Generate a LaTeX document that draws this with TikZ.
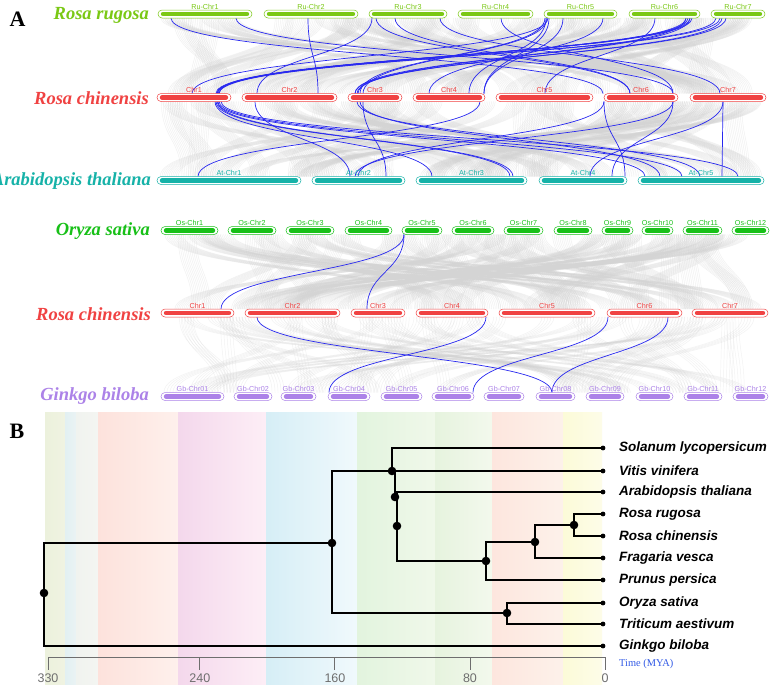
\documentclass[tikz,border=0pt]{standalone}
\usepackage{fontspec}
\setmainfont{Liberation Serif}
\setsansfont{Liberation Sans}
\definecolor{cRu}{RGB}{122,200,20}
\definecolor{cRc}{RGB}{240,66,66}
\definecolor{cAt}{RGB}{22,178,168}
\definecolor{cOs}{RGB}{24,192,24}
\definecolor{cGb}{RGB}{172,130,232}
\definecolor{synblue}{RGB}{40,40,240}
\definecolor{syngray}{RGB}{212,212,212}
\definecolor{axisgray}{RGB}{110,110,110}
\definecolor{timeblue}{RGB}{50,90,230}
\newcommand\chrom[6]{%
  \node[draw=#5, fill=white, rounded corners=4pt, line width=0.5pt,
        minimum width={(#3-#2)*1pt}, minimum height=8pt, inner sep=0pt]
        (#1) at ({(#2+#3)/2},#4) {};
  \draw[color=#5, line width=4.4pt, line cap=round] ({#2+5},#4) -- ({#3-5},#4);
  \node[chrlabel, text=#5] (#1l) at ({(#2+#3)/2},{#4-4.6}) {#6};
}
\newcommand\synline[5]{%
  \draw[#5] (#1,#3) .. controls (#1,{(#3+#4)/2}) and (#2,{(#3+#4)/2}) .. (#2,#4);
}
\newcommand\graybundles[6]{% count, lines, spacing, y1, y2, opacity
  \foreach \i in {1,...,#1} {
    \pgfmathsetmacro{\xa}{168+585*rnd}
    \pgfmathsetmacro{\xb}{168+585*rnd}
    \foreach \k in {1,...,#2} {
      \pgfmathsetmacro{\off}{(\k-(#2+1)/2)*#3}
      \draw[syngray, line width=0.45pt, opacity=#6]
        ({\xa+\off},#4) .. controls ({\xa+\off},{(#4+#5)/2}) and ({\xb+\off},{(#4+#5)/2}) .. ({\xb+\off},#5);
    }
  }
}
\tikzset{
  chrlabel/.style={font=\sffamily\fontsize{7.2}{8}\selectfont, anchor=base, inner sep=0pt},
  species/.style={font=\fontsize{18.5}{21}\selectfont\bfseries\itshape, anchor=east, inner sep=0pt},
  blue link/.style={synblue, line width=0.7pt},
  branch/.style={black, line width=1.6pt, line cap=rect},
  tipdot/.style={black, radius=2.4},
  nodedot/.style={black, radius=4.3},
  tiplabel/.style={font=\sffamily\bfseries\itshape\fontsize{13.5}{15}\selectfont, anchor=west, inner sep=0pt},
  panel/.style={font=\bfseries\fontsize{22}{24}\selectfont, inner sep=0pt},
}
\begin{document}
\begin{tikzpicture}[x=1pt,y=-1pt]
\useasboundingbox (0,0) rectangle (780,689);
\clip (0,0) rectangle (780,689);
\fill[white] (0,0) rectangle (780,689);

% ---------------- Panel A ----------------
\node[panel] (A) at (17.5,19) {A};

\pgfmathsetseed{4711}
\graybundles{70}{11}{1.8}{18}{93.5}{0.35}
\graybundles{65}{11}{1.8}{101.5}{176.5}{0.35}
\graybundles{70}{11}{1.8}{234.5}{309}{0.35}
\graybundles{60}{5}{3}{317}{392.5}{0.3}

% blue links Ru -> Rc
\foreach \a/\b in {171/603, 236/673, 308/318, 372/257, 376/630, 395/630, 440/720, 501/673,
  546/469, 549/484, 563/484, 603/429, 655/545, 686/217, 688/219, 690/216, 692/218,
  716/217, 720/219, 726/355, 686/355, 690/358, 722/357, 548/192, 545/360, 547/363}
  {\synline{\a}{\b}{18}{93.5}{blue link}}
% blue links Rc -> At
\foreach \a/\b in {217/645, 219/682, 221/738, 216/510, 218/513, 215/432, 255/350, 480/198,
  363/386, 357/700, 360/660, 723/590, 673/612, 604/625, 723/722, 673/355, 604/358}
  {\synline{\a}{\b}{101.5}{176.5}{blue link}}
% blue links Os -> Rc
\foreach \a/\b in {404/221, 404/367}
  {\synline{\a}{\b}{234.5}{309}{blue link}}
% blue links Rc -> Gb
\foreach \a/\b in {257/552, 486/329, 608/473, 668/552}
  {\synline{\a}{\b}{317}{392.5}{blue link}}

% species labels
\node[species, text=cRu] (sRu) at (149,15) {Rosa rugosa};
\node[species, text=cRc] (sRc) at (149,98) {Rosa chinensis};
\node[species, text=cAt] (sAt) at (151,181) {Arabidopsis thaliana};
\node[species, text=cOs] (sOs) at (150,231) {Oryza sativa};
\node[species, text=cRc] (sRc2) at (151,314) {Rosa chinensis};
\node[species, text=cGb] (sGb) at (149,396) {Ginkgo biloba};

% chromosomes
\chrom{ru1}{158}{252}{14}{cRu}{Ru-Chr1}
\chrom{ru2}{264}{358}{14}{cRu}{Ru-Chr2}
\chrom{ru3}{369}{447}{14}{cRu}{Ru-Chr3}
\chrom{ru4}{458}{533}{14}{cRu}{Ru-Chr4}
\chrom{ru5}{544}{617}{14}{cRu}{Ru-Chr5}
\chrom{ru6}{629}{700}{14}{cRu}{Ru-Chr6}
\chrom{ru7}{711}{765}{14}{cRu}{Ru-Chr7}

\chrom{rca1}{157}{231}{97.5}{cRc}{Chr1}
\chrom{rca2}{242}{337}{97.5}{cRc}{Chr2}
\chrom{rca3}{348}{402}{97.5}{cRc}{Chr3}
\chrom{rca4}{413}{485}{97.5}{cRc}{Chr4}
\chrom{rca5}{496}{593}{97.5}{cRc}{Chr5}
\chrom{rca6}{604}{678}{97.5}{cRc}{Chr6}
\chrom{rca7}{690}{766}{97.5}{cRc}{Chr7}

\chrom{at1}{157}{301}{180.5}{cAt}{At-Chr1}
\chrom{at2}{312}{405}{180.5}{cAt}{At-Chr2}
\chrom{at3}{416}{527}{180.5}{cAt}{At-Chr3}
\chrom{at4}{539}{627}{180.5}{cAt}{At-Chr4}
\chrom{at5}{638}{764}{180.5}{cAt}{At-Chr5}

\chrom{os1}{161}{218}{230.5}{cOs}{Os-Chr1}
\chrom{os2}{228}{276}{230.5}{cOs}{Os-Chr2}
\chrom{os3}{286}{334}{230.5}{cOs}{Os-Chr3}
\chrom{os4}{345}{392}{230.5}{cOs}{Os-Chr4}
\chrom{os5}{402}{442}{230.5}{cOs}{Os-Chr5}
\chrom{os6}{452}{494}{230.5}{cOs}{Os-Chr6}
\chrom{os7}{504}{543}{230.5}{cOs}{Os-Chr7}
\chrom{os8}{554}{592}{230.5}{cOs}{Os-Chr8}
\chrom{os9}{602}{633}{230.5}{cOs}{Os-Chr9}
\chrom{os10}{642}{673}{230.5}{cOs}{Os-Chr10}
\chrom{os11}{683}{722}{230.5}{cOs}{Os-Chr11}
\chrom{os12}{732}{769}{230.5}{cOs}{Os-Chr12}

\chrom{rcb1}{161}{234}{313}{cRc}{Chr1}
\chrom{rcb2}{245}{340}{313}{cRc}{Chr2}
\chrom{rcb3}{351}{405}{313}{cRc}{Chr3}
\chrom{rcb4}{416}{488}{313}{cRc}{Chr4}
\chrom{rcb5}{499}{595}{313}{cRc}{Chr5}
\chrom{rcb6}{607}{682}{313}{cRc}{Chr6}
\chrom{rcb7}{692}{768}{313}{cRc}{Chr7}

\chrom{gb1}{161}{224}{396.5}{cGb}{Gb-Chr01}
\chrom{gb2}{234}{272}{396.5}{cGb}{Gb-Chr02}
\chrom{gb3}{281}{316}{396.5}{cGb}{Gb-Chr03}
\chrom{gb4}{328}{370}{396.5}{cGb}{Gb-Chr04}
\chrom{gb5}{381}{422}{396.5}{cGb}{Gb-Chr05}
\chrom{gb6}{432}{474}{396.5}{cGb}{Gb-Chr06}
\chrom{gb7}{484}{524}{396.5}{cGb}{Gb-Chr07}
\chrom{gb8}{536}{575}{396.5}{cGb}{Gb-Chr08}
\chrom{gb9}{586}{624}{396.5}{cGb}{Gb-Chr09}
\chrom{gb10}{636}{673}{396.5}{cGb}{Gb-Chr10}
\chrom{gb11}{684}{722}{396.5}{cGb}{Gb-Chr11}
\chrom{gb12}{733}{768}{396.5}{cGb}{Gb-Chr12}

% ---------------- Panel B ----------------
\node[panel] (B) at (17,431) {B};

% geological time bands
\shade[left color={rgb,255:red,236;green,241;blue,220}, right color={rgb,255:red,240;green,243;blue,226}] (45,412) rectangle (65,684);
\shade[left color={rgb,255:red,226;green,240;blue,242}, right color={rgb,255:red,234;green,243;blue,244}] (65,412) rectangle (76,684);
\shade[left color={rgb,255:red,240;green,243;blue,239}, right color={rgb,255:red,244;green,245;blue,242}] (76,412) rectangle (98,684);
\shade[left color={rgb,255:red,253;green,226;blue,220}, right color={rgb,255:red,254;green,240;blue,236}] (98,412) rectangle (178,684);
\shade[left color={rgb,255:red,244;green,216;blue,236}, right color={rgb,255:red,253;green,238;blue,246}] (178,412) rectangle (266,684);
\shade[left color={rgb,255:red,214;green,238;blue,246}, right color={rgb,255:red,240;green,249;blue,252}] (266,412) rectangle (357,684);
\shade[left color={rgb,255:red,226;green,244;blue,222}, right color={rgb,255:red,240;green,248;blue,234}] (357,412) rectangle (435,684);
\shade[left color={rgb,255:red,230;green,243;blue,222}, right color={rgb,255:red,243;green,249;blue,237}] (435,412) rectangle (492,684);
\shade[left color={rgb,255:red,253;green,230;blue,222}, right color={rgb,255:red,253;green,241;blue,234}] (492,412) rectangle (563,684);
\shade[left color={rgb,255:red,252;green,251;blue,216}, right color={rgb,255:red,253;green,252;blue,232}] (563,412) rectangle (602,684);

% axis
\draw[axisgray, line width=0.9pt] (48,657) -- (605,657);
\foreach \v in {330,240,160,80,0} {
  \pgfmathsetmacro{\tx}{605-\v*1.68788}
  \draw[axisgray, line width=0.9pt] (\tx,657) -- (\tx,670);
  \node[font=\sffamily\fontsize{12.5}{14}\selectfont, text=axisgray, inner sep=0pt] (tick\v) at (\tx,678.5) {\v};
}
\node[font=\fontsize{10.4}{12}\selectfont, text=timeblue, anchor=west, inner sep=0pt] (time) at (619,664) {Time (MYA)};

% tree
\coordinate (root) at (44,593);
\coordinate (n1) at (332,543);
\coordinate (n2) at (392,471);
\coordinate (n3) at (395,497);
\coordinate (n4) at (397,526);
\coordinate (n5) at (486,561);
\coordinate (n6) at (535,542);
\coordinate (n7) at (574,525);
\coordinate (n8) at (507,613);
\foreach \n/\y/\t in {t1/448/Solanum lycopersicum, t2/471/Vitis vinifera, t3/492/Arabidopsis thaliana,
  t4/514/Rosa rugosa, t5/536/Rosa chinensis, t6/558/Fragaria vesca, t7/580/Prunus persica,
  t8/603/Oryza sativa, t9/624/Triticum aestivum, t10/646/Ginkgo biloba} {
  \coordinate (\n) at (603,\y);
  \node[tiplabel] (l\n) at (619,\y) {\t};
}
\draw[branch] (n1) -| (root) |- (t10);
\draw[branch] (t2) -| (n1) |- (n8);
\draw[branch] (t1) -| (n2);
\draw[branch] (n2) -| (n3);
\draw[branch] (t3) -| (n4) |- (n5);
\draw[branch] (n6) -| (n5) |- (t7);
\draw[branch] (n7) -| (n6) |- (t6);
\draw[branch] (t4) -| (n7) |- (t5);
\draw[branch] (t8) -| (n8) |- (t9);
\foreach \n in {t1,t2,t3,t4,t5,t6,t7,t8,t9,t10} \fill[tipdot] (\n) circle;
\foreach \n in {root,n1,n2,n3,n4,n5,n6,n7,n8} \fill[nodedot] (\n) circle;
\end{tikzpicture}
\end{document}
